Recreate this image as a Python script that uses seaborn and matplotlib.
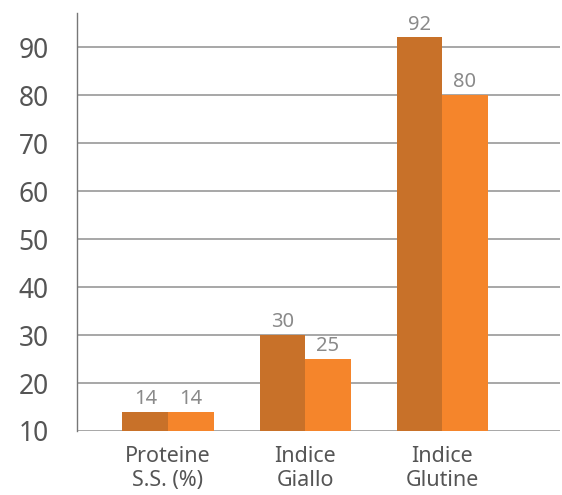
import matplotlib.pyplot as plt
import seaborn as sns
import pandas as pd

sns.set_style("white")
plt.rcParams['font.family'] = ['Noto Sans', 'DejaVu Sans']

# Data
categories = ["Proteine\nS.S. (%)", "Indice\nGiallo", "Indice\nGlutine"]
series_names = ["Serie 1", "Serie 2"]
serie_1 = [14, 30, 92]
serie_2 = [14, 25, 80]
yticks = [10, 20, 30, 40, 50, 60, 70, 80, 90]

df = pd.DataFrame({
    "categoria": categories * 2,
    "serie": [series_names[0]] * 3 + [series_names[1]] * 3,
    "valore": serie_1 + serie_2,
})

fig = plt.figure(figsize=(5.62, 4.95), dpi=100)
ax = fig.add_axes([0.137, 0.1293, 0.8594, 0.8444])

ax.set_axisbelow(True)
ax.yaxis.grid(True, color='#a0a0a0', linewidth=1.3)

sns.barplot(data=df, x="categoria", y="valore", hue="serie",
            palette=["#C87129", "#F5852B"], width=0.664, gap=0,
            saturation=1, legend=False, linewidth=0, ax=ax)

for c in ax.containers:
    ax.bar_label(c, padding=2, fontsize=14.5, color='#8a8a8a')

ax.set_ylim(10, 97.1)
ax.set_xlim(-0.664, 2.86)
ax.set_yticks(yticks)
ax.set_xlabel('')
ax.set_ylabel('')

for s in ['top', 'right', 'bottom']:
    ax.spines[s].set_visible(False)
ax.spines['left'].set_color('#777777')
ax.spines['left'].set_linewidth(1.0)

ax.tick_params(axis='y', length=9.5, width=1.3, color='#a0a0a0',
               labelsize=19, labelcolor='#555555', pad=11)
ax.tick_params(axis='x', length=0, labelsize=15.5, labelcolor='#555555', pad=11)
for t in ax.get_xticklabels():
    t.set_linespacing(1.15)

fig.savefig("out.png", dpi=100)
